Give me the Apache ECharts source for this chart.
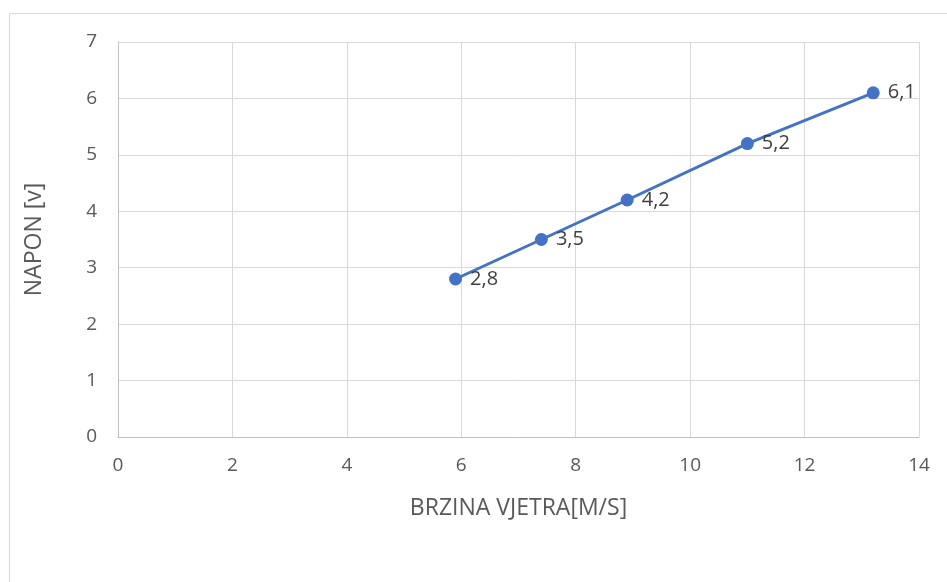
<!DOCTYPE html>
<html>
<head>
<meta charset="utf-8">
<script src="https://cdn.jsdelivr.net/npm/echarts@6/dist/echarts.min.js"></script>
<style>
  html, body { margin: 0; padding: 0; background: #fff; }
  #chart { width: 947px; height: 582px; }
</style>
</head>
<body>
<div id="chart"></div>
<script>
// brzina vjetra (m/s) i napon (V)
var brzina = [5.9, 7.4, 8.9, 11, 13.2];
var napon = [2.8, 3.5, 4.2, 5.2, 6.1];

var points = [];
for (var i = 0; i < brzina.length; i++) {
  points.push([brzina[i], napon[i]]);
}

var chart = echarts.init(document.getElementById('chart'));
var font = '"Open Sans", "Noto Sans", sans-serif';
var option = {
  animation: false,
  graphic: [{
    type: 'rect',
    shape: { x: 9.5, y: 13.5, width: 960, height: 600 },
    style: { fill: 'none', stroke: '#d9d9d9', lineWidth: 1 },
    silent: true
  }],
  grid: { left: 118, right: 28, top: 42, bottom: 145 },
  xAxis: {
    type: 'value',
    min: 0, max: 14, interval: 2,
    name: 'BRZINA VJETRA[M/S]',
    nameLocation: 'middle',
    nameGap: 60,
    nameTextStyle: { color: '#595959', fontSize: 23, fontFamily: font },
    axisLine: { show: true, lineStyle: { color: '#bfbfbf', width: 1 } },
    axisTick: { show: false },
    axisLabel: { color: '#595959', fontSize: 19, fontFamily: font, margin: 19 },
    splitLine: { show: true, lineStyle: { color: '#d9d9d9', width: 1 } }
  },
  yAxis: {
    type: 'value',
    min: 0, max: 7, interval: 1,
    name: 'NAPON [v]',
    nameLocation: 'middle',
    nameGap: 72,
    nameRotate: 90,
    nameTextStyle: { color: '#595959', fontSize: 23, fontFamily: font },
    axisLine: { show: true, lineStyle: { color: '#bfbfbf', width: 1 } },
    axisTick: { show: false },
    axisLabel: { color: '#595959', fontSize: 19, fontFamily: font, margin: 21 },
    splitLine: { show: true, lineStyle: { color: '#d9d9d9', width: 1 } }
  },
  series: [{
    type: 'line',
    data: points,
    symbol: 'circle',
    symbolSize: 13,
    lineStyle: { color: '#4472C4', width: 3 },
    itemStyle: { color: '#4472C4' },
    label: {
      show: true,
      position: 'right',
      distance: 8,
      color: '#404040',
      fontSize: 20,
      fontFamily: font,
      formatter: function (p) { return String(p.value[1]).replace('.', ','); }
    }
  }]
};
chart.setOption(option);
</script>
</body>
</html>
